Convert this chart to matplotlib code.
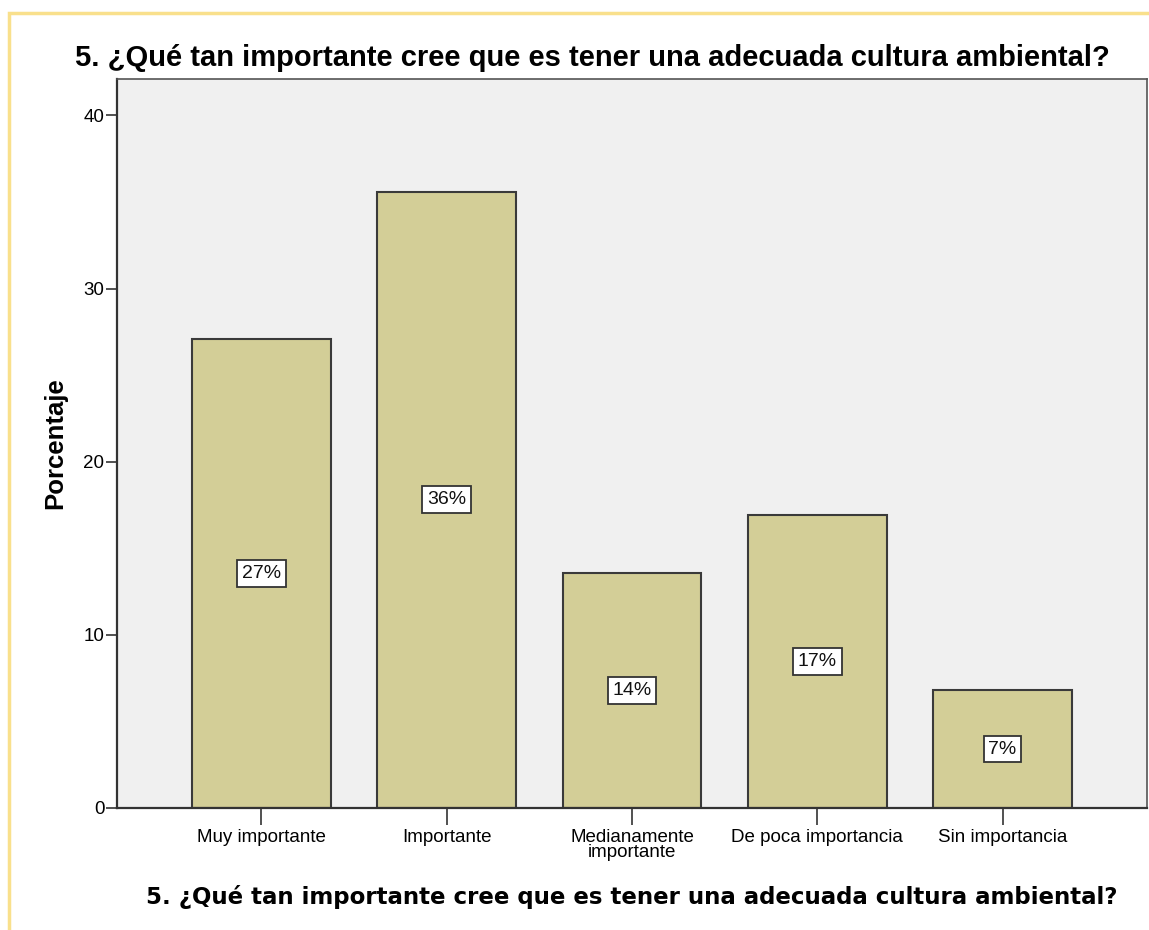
import numpy as np
import matplotlib.pyplot as plt
from matplotlib import font_manager as fm
from matplotlib.patches import Rectangle

categories = ["Muy importante", "Importante", "Medianamente\nimportante",
              "De poca importancia", "Sin importancia"]
percentages = [27.1, 35.6, 13.6, 16.9, 6.8]
labels = ["27%", "36%", "14%", "17%", "7%"]

title = "5. ¿Qué tan importante cree que es tener una adecuada cultura ambiental?"


def pick_font(bold=False):
    # Liberation Sans, but not the Narrow variant
    for f in fm.fontManager.ttflist:
        if f.name == "Liberation Sans" and "narrow" not in f.fname.lower() \
                and f.style == "normal":
            if (f.weight in ("bold", 700)) == bold:
                return fm.FontProperties(fname=f.fname)
    return fm.FontProperties(family="DejaVu Sans",
                              weight="bold" if bold else "normal")


reg = pick_font(False)
bld = pick_font(True)

W, H = 1149, 930
fig = plt.figure(figsize=(W / 100, H / 100), dpi=100)

# yellow frame around the output
fig.patches.append(Rectangle((9 / W, -0.1), 1.2, 1 - 13 / H + 0.1,
                             transform=fig.transFigure, fill=False,
                             edgecolor="#F9E08C", linewidth=2.5))

ax = fig.add_axes([117 / W, 1 - 808 / H, (1147 - 117) / W, (808 - 79) / H])
ax.set_facecolor("#F0F0F0")

x = np.arange(len(categories))
ax.bar(x, percentages, width=0.75, color="#D3CE97",
       edgecolor="#3A3A3A", linewidth=1.5, zorder=2)

for xi, v, lab in zip(x, percentages, labels):
    ax.text(xi, v / 2, lab, ha="center", va="center", fontproperties=reg,
            fontsize=14, color="#111111", zorder=3,
            bbox=dict(boxstyle="square,pad=0.25", facecolor="white",
                      edgecolor="#333333", linewidth=1.3))

ax.set_xlim(-0.78, 4.78)
ax.set_ylim(0, 42.1)
ax.set_yticks([0, 10, 20, 30, 40])
ax.set_xticks(x)
ax.set_xticklabels(categories, linespacing=0.85)
for t in ax.get_xticklabels():
    t.set_fontproperties(reg)
    t.set_fontsize(13.5)
for t in ax.get_yticklabels():
    t.set_fontproperties(reg)
    t.set_fontsize(13.5)
ax.tick_params(axis="y", length=8, width=1.2, color="#333333", pad=1)
ax.tick_params(axis="x", length=12, width=1.2, color="#333333", pad=3)

for s in ax.spines.values():
    s.set_color("#555555")
    s.set_linewidth(1.2)
ax.spines["left"].set_color("#333333")
ax.spines["bottom"].set_color("#333333")
ax.spines["left"].set_linewidth(1.6)
ax.spines["bottom"].set_linewidth(1.6)

fig.text(592 / W, 1 - 58 / H, title, ha="center", va="center",
         fontproperties=bld, fontsize=21)
ax.set_ylabel("Porcentaje", fontproperties=bld, fontsize=18.5, labelpad=12)
fig.text(632 / W, 1 - 897 / H, title, ha="center", va="center",
         fontsize=16.5, fontweight="bold", family="DejaVu Sans")

fig.savefig("out.png", dpi=100)
